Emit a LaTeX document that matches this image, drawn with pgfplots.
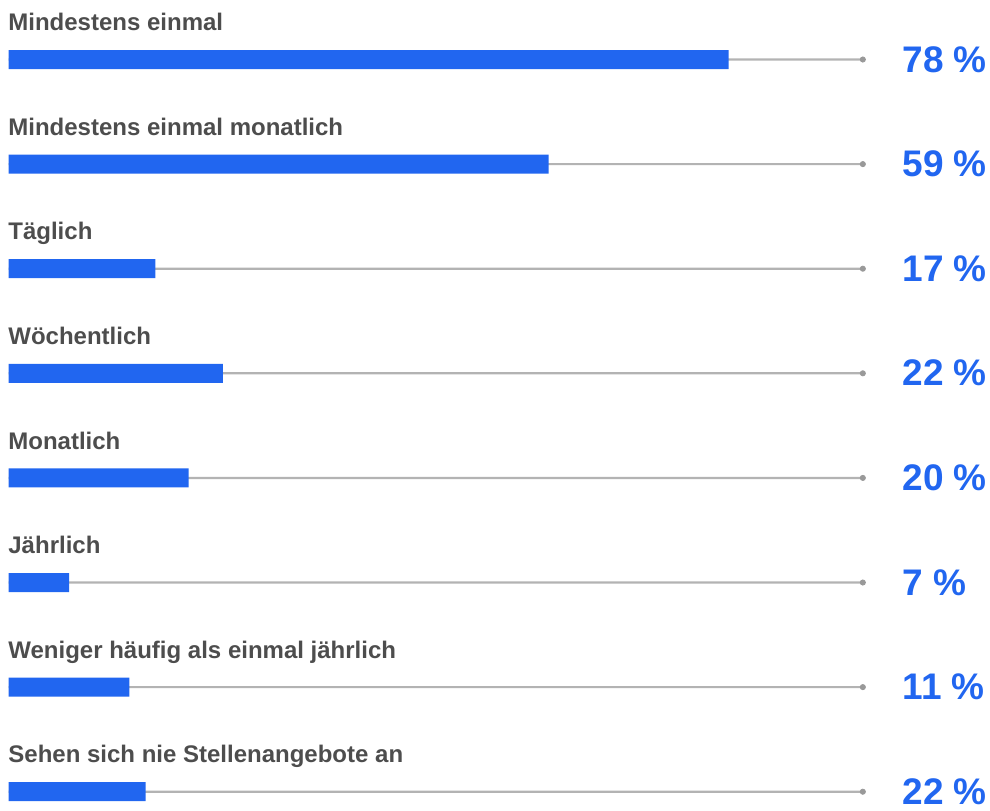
\documentclass[border=0pt]{standalone}
\usepackage{pgfplots}
\usepackage{pgfplotstable}
\pgfplotsset{compat=1.18}
\usepackage{fontspec}
\setmainfont{Liberation Sans}

\definecolor{barblue}{HTML}{2166F0}
\definecolor{labgray}{HTML}{4D4D4D}
\definecolor{track}{HTML}{B3B3B3}
\definecolor{dotgray}{HTML}{999999}

% row; bar length as drawn (scale units); printed value; label
\pgfplotstableread[col sep=semicolon]{
row;bar;pct;lab
0;80.0;78;Mindestens einmal
1;60.0;59;Mindestens einmal monatlich
2;16.3;17;Täglich
3;23.8;22;Wöchentlich
4;20.0;20;Monatlich
5;6.7;7;Jährlich
6;13.4;11;Weniger häufig als einmal jährlich
7;15.2;22;Sehen sich nie Stellenangebote an
}\data

\begin{document}
\begin{tikzpicture}
\begin{axis}[
    scale only axis,
    width=495pt, height=405pt,
    hide axis, clip=false,
    xmin=-0.967, xmax=109.03,
    ymin=0, ymax=810, y dir=reverse,
]
\path (rel axis cs:0,0) rectangle (rel axis cs:1,1);
% grey track up to the end dot
\addplot[xbar, bar width=2.2, bar shift=0pt, fill=track, draw=none]
    table[x expr=94.9, y expr=59.5+104.6*\thisrow{row}] {\data};
\addplot[only marks, mark=*, mark size=1.3pt, color=dotgray]
    table[x expr=94.9, y expr=59.5+104.6*\thisrow{row}] {\data};
% blue bars
\addplot[xbar, bar width=19, bar shift=0pt, fill=barblue, draw=none]
    table[x=bar, y expr=59.5+104.6*\thisrow{row}] {\data};
% category labels
\addplot[draw=none, mark=none, point meta=explicit symbolic,
    nodes near coords,
    nodes near coords style={anchor=base west, inner sep=0pt,
        font=\fontsize{12}{14}\selectfont\bfseries, text=labgray}]
    table[x expr=-0.078, y expr=30.7+104.6*\thisrow{row}, meta=lab] {\data};
% percentages
\addplot[draw=none, mark=none, point meta=explicit symbolic,
    nodes near coords={\pgfplotspointmeta\ \%},
    nodes near coords style={anchor=base west, inner sep=0pt,
        font=\fontsize{18.5}{22}\selectfont\bfseries, text=barblue}]
    table[x expr=99.26, y expr=72+104.6*\thisrow{row}, meta=pct] {\data};
\end{axis}
\end{tikzpicture}
\end{document}
